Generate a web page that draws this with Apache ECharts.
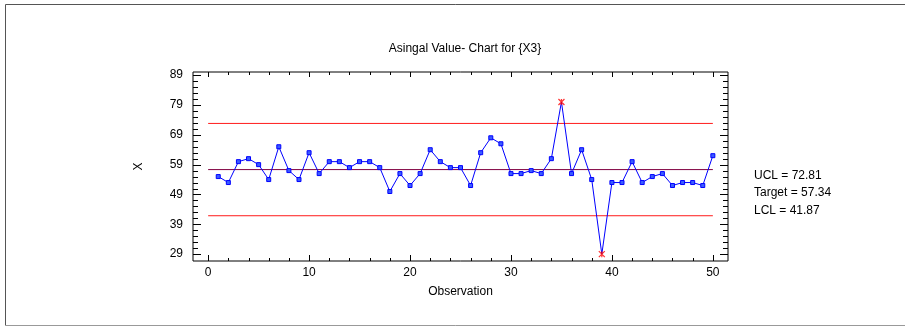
<!DOCTYPE html>
<html>
<head>
<meta charset="utf-8">
<script src="https://cdn.jsdelivr.net/npm/echarts@6/dist/echarts.min.js"></script>
<style>
html,body{margin:0;padding:0;background:#fff;}
#c{width:905px;height:327px;}
</style>
</head>
<body>
<div id="c"></div>
<script>
const observations = Array.from({length: 50}, (_, i) => i + 1);
const values = [55,53,60,61,59,54,65,57,54,63,56,60,60,58,60,60,58,50,56,52,56,64,60,58,58,52,63,68,66,56,56,57,56,61,80,56,64,54,29,53,53,60,53,55,56,52,53,53,52,62];
const UCL = 72.81;
const TARGET = 57.34;
const LCL = 41.87;
const xTickLabels = [0, 10, 20, 30, 40, 50];
const yTickLabels = [29, 39, 49, 59, 69, 79, 89];
const xMinorTicks = [0,2,4,6,8,10,12,14,16,18,20,22,24,26,28,30,32,34,36,38,40,42,44,46,48,50];
const yMinorTicks = [29,31,33,35,37,39,41,43,45,47,49,51,53,55,57,59,61,63,65,67,69,71,73,75,77,79,81,83,85,87,89];
const legendLines = ['UCL = 72.81', 'Target = 57.34', 'LCL = 41.87'];

const FONT = '"Liberation Sans", Arial, sans-serif';
const X_MIN = -1.5, X_MAX = 51.5, Y_MIN = 26.7, Y_MAX = 90.05;
const chart = echarts.init(document.getElementById('c'), null, {renderer: 'canvas'});

const isOut = v => v > UCL || v < LCL;
const lineData = observations.map((x, i) => isOut(values[i]) ? {value: [x, values[i]], symbol: 'none'} : [x, values[i]]);
const outData = observations.map((x, i) => [x, values[i]]).filter(d => isOut(d[1]));
const xFirst = observations[0] - 1, xLast = observations[observations.length - 1];

// tick items: [value, length, side]  side: 0 bottom, 1 top, 2 left, 3 right
const tickItems = [];
xMinorTicks.forEach(v => {
  const major = xTickLabels.indexOf(v) >= 0;
  tickItems.push([v, major ? 6 : 3, 0]);
  tickItems.push([v, major ? 5 : 3, 1]);
});
yMinorTicks.forEach(v => {
  const major = yTickLabels.indexOf(v) >= 0;
  tickItems.push([v, major ? 8 : 5, 2]);
  tickItems.push([v, major ? 8 : 5, 3]);
});

function renderTick(params, api) {
  const v = api.value(0), len = api.value(1), side = api.value(2);
  let x1, y1, x2, y2;
  if (side === 0 || side === 1) {
    const p = api.coord([v, side === 0 ? Y_MIN : Y_MAX]);
    const x = Math.round(p[0]) + 0.5;
    x1 = x2 = x;
    y1 = p[1];
    y2 = side === 0 ? p[1] - len : p[1] + len;
  } else {
    const p = api.coord([side === 2 ? X_MIN : X_MAX, v]);
    const y = Math.round(p[1]) + 0.5;
    y1 = y2 = y;
    x1 = p[0];
    x2 = side === 2 ? p[0] + len : p[0] - len;
  }
  return {type: 'line', shape: {x1, y1, x2, y2}, style: {stroke: '#000', lineWidth: 1}};
}

const option = {
  animation: false,
  backgroundColor: '#fff',
  title: {
    text: 'Asingal Value- Chart for {X3}',
    left: 460, textAlign: 'center', top: 38,
    textStyle: {fontFamily: FONT, fontSize: 12, fontWeight: 'normal', color: '#000'}
  },
  grid: {left: 193, top: 72, width: 535, height: 189, show: true, borderColor: '#000', borderWidth: 1, backgroundColor: 'transparent'},
  xAxis: {
    type: 'value', min: X_MIN, max: X_MAX,
    axisLine: {show: false}, splitLine: {show: false}, axisTick: {show: false},
    axisLabel: {show: true, customValues: xTickLabels, color: '#000', fontFamily: FONT, fontSize: 12, margin: 6},
    name: 'Observation', nameLocation: 'middle', nameGap: 25,
    nameTextStyle: {color: '#000', fontFamily: FONT, fontSize: 12}
  },
  yAxis: {
    type: 'value', min: Y_MIN, max: Y_MAX,
    axisLine: {show: false}, splitLine: {show: false}, axisTick: {show: false},
    axisLabel: {show: true, customValues: yTickLabels, color: '#000', fontFamily: FONT, fontSize: 12, margin: 10},
    name: 'X', nameLocation: 'middle', nameGap: 48, nameRotate: 90,
    nameTextStyle: {color: '#000', fontFamily: FONT, fontSize: 12}
  },
  graphic: [
    {type: 'line', shape: {x1: 5.5, y1: 4.5, x2: 905, y2: 4.5}, style: {stroke: '#555', lineWidth: 1}},
    {type: 'line', shape: {x1: 5.5, y1: 4.5, x2: 5.5, y2: 325.5}, style: {stroke: '#555', lineWidth: 1}},
    {type: 'line', shape: {x1: 5.5, y1: 325.5, x2: 905, y2: 325.5}, style: {stroke: '#999', lineWidth: 1}},
    {type: 'text', left: 754, top: 170, style: {text: legendLines[0], font: '12px ' + FONT, fill: '#000'}},
    {type: 'text', left: 754, top: 187, style: {text: legendLines[1], font: '12px ' + FONT, fill: '#000'}},
    {type: 'text', left: 754, top: 205, style: {text: legendLines[2], font: '12px ' + FONT, fill: '#000'}}
  ],
  series: [
    {type: 'custom', data: tickItems, renderItem: renderTick, silent: true, clip: false, z: 1},
    {type: 'line', data: [[xFirst, UCL], [xLast, UCL]], symbol: 'none', silent: true, lineStyle: {color: '#ff1a1a', width: 1}},
    {type: 'line', data: [[xFirst, TARGET], [xLast, TARGET]], symbol: 'none', silent: true, lineStyle: {color: '#800040', width: 1}},
    {type: 'line', data: [[xFirst, LCL], [xLast, LCL]], symbol: 'none', silent: true, lineStyle: {color: '#ff1a1a', width: 1}},
    {type: 'line', data: lineData, symbol: 'rect', symbolSize: 4, lineStyle: {color: '#0000ff', width: 1},
      itemStyle: {color: '#3a5cff', borderColor: '#0000ff', borderWidth: 1}},
    {type: 'scatter', data: outData, symbol: 'path://M0,0L10,10M10,0L0,10M5,0L5,10', symbolSize: 6,
      itemStyle: {color: 'transparent', borderColor: '#ff0000', borderWidth: 1.2}, z: 5}
  ]
};
chart.setOption(option);
</script>
</body>
</html>
